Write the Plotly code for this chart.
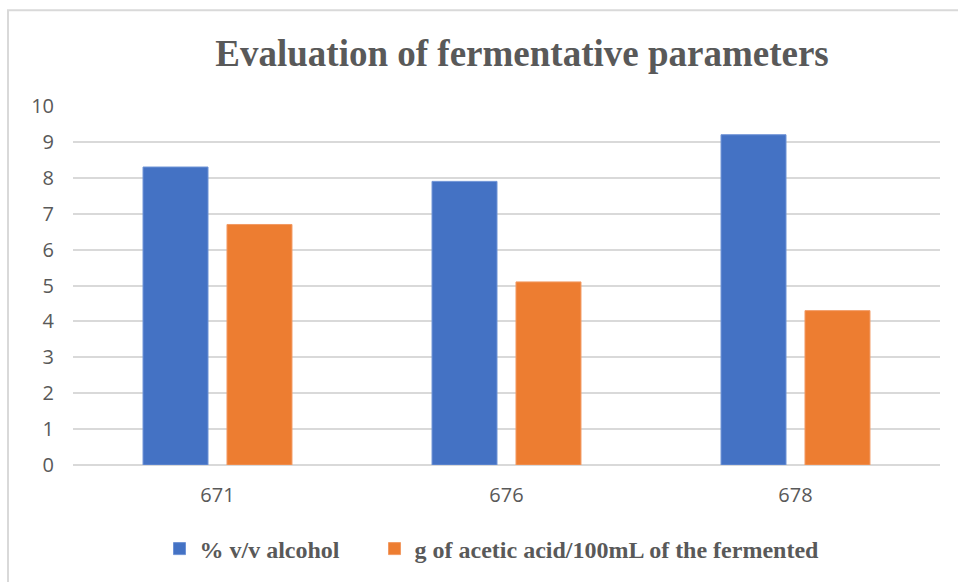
import plotly.graph_objects as go

categories = ["671", "676", "678"]
alcohol = [8.3, 7.9, 9.2]
acetic = [6.7, 5.1, 4.3]
series_names = ["% v/v alcohol", "g of acetic acid/100mL of the fermented"]
y_ticks = list(range(0, 11))

W, H = 958, 582
L, R, T, B = 73, 18, 106, 116
pw, ph = W - L - R, H - T - B

fig = go.Figure()
fig.add_trace(go.Bar(x=categories, y=alcohol,
                     name="<b>" + series_names[0] + "</b>" + "&nbsp;" * 5,
                     marker=dict(color="#4472C4", line=dict(color="#6f93d6", width=1))))
fig.add_trace(go.Bar(x=categories, y=acetic,
                     name="<b>" + series_names[1] + "</b>",
                     marker=dict(color="#ED7D31", line=dict(color="#f29a63", width=1))))

fig.update_layout(
    width=W, height=H,
    margin=dict(l=L, r=R, t=T, b=B),
    paper_bgcolor="white", plot_bgcolor="white",
    barmode="group", bargap=0.419, bargroupgap=0.226,
    title=dict(text="<b>Evaluation of fermentative parameters</b>",
               x=522 / W, xanchor="center", y=1 - 53 / H, yanchor="middle",
               font=dict(family="Liberation Serif", size=37, color="#595959")),
    legend=dict(orientation="h", x=(492 - L) / pw, xanchor="center",
                y=-(549 - 466) / ph, yanchor="middle",
                font=dict(family="Liberation Serif", size=24, color="#595959"),
                itemwidth=30, traceorder="normal"),
    showlegend=True,
    xaxis=dict(showgrid=False, showline=False, ticks="", ticklabelstandoff=16,
               tickfont=dict(family="Open Sans", size=20, color="#595959")),
    yaxis=dict(range=[0, 10], tickvals=y_ticks, showgrid=True,
               gridcolor="#d9d9d9", gridwidth=1.5, zeroline=True,
               zerolinecolor="#d9d9d9", zerolinewidth=1.5, showline=False,
               ticks="", ticklabelstandoff=18,
               tickfont=dict(family="Open Sans", size=20, color="#595959")),
    font=dict(family="Open Sans", color="#595959"),
)

# outer chart border (cropped on right/bottom in original)
fig.add_shape(type="rect", xref="paper", yref="paper",
              x0=(8 - L) / pw, x1=1 + (W + 5 - (L + pw)) / pw,
              y0=-(B + 10) / ph, y1=1 + (T - 10) / ph,
              line=dict(color="#d9d9d9", width=2), fillcolor="rgba(0,0,0,0)",
              layer="below")

fig.write_html("out.html", config={"displayModeBar": False},
               post_script="document.body.style.margin='0';")
